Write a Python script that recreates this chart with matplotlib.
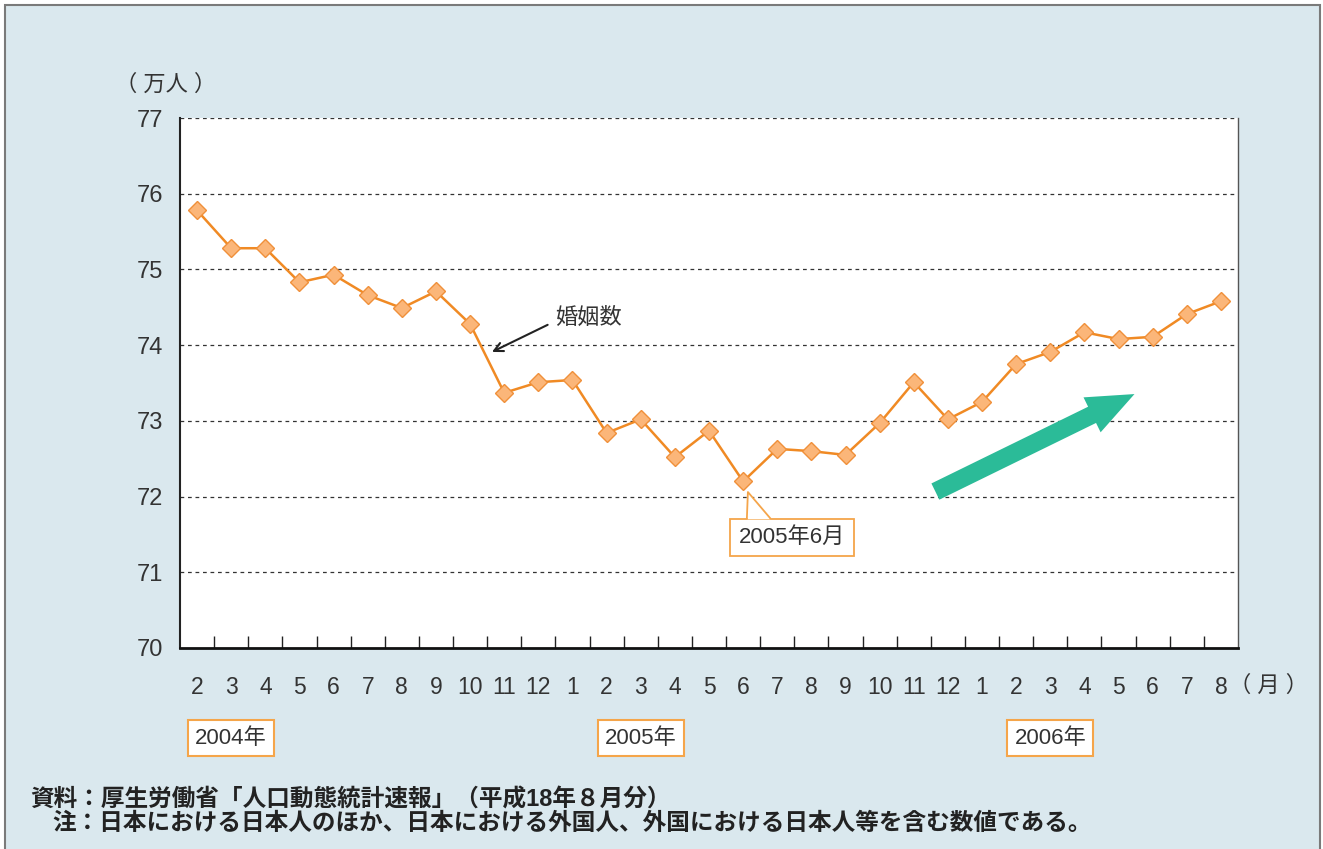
import matplotlib.pyplot as plt
from matplotlib.patches import Rectangle, FancyArrowPatch, Polygon

plt.rcParams['font.family'] = ['Liberation Sans', 'Noto Sans CJK JP', 'DejaVu Sans']

# 2004年2月 - 2006年8月 婚姻数（万人）
months = [2, 3, 4, 5, 6, 7, 8, 9, 10, 11, 12,
          1, 2, 3, 4, 5, 6, 7, 8, 9, 10, 11, 12,
          1, 2, 3, 4, 5, 6, 7, 8]
marriages = [75.78, 75.28, 75.28, 74.83, 74.93, 74.66, 74.49, 74.71, 74.28, 73.37, 73.51,
             73.54, 72.84, 73.02, 72.52, 72.87, 72.20, 72.63, 72.60, 72.55, 72.97, 73.51, 73.02,
             73.25, 73.75, 73.91, 74.17, 74.08, 74.11, 74.41, 74.58]
years = ['2004年', '2005年', '2006年']
year_pos = [1, 13, 25]
y_ticks = [70, 71, 72, 73, 74, 75, 76, 77]

txt = '#333333'
orange = '#f08a24'

fig = plt.figure(figsize=(13.23, 8.49), dpi=100)
fig.patch.set_facecolor('white')
frame = Rectangle((5 / 1323, -0.02), 1315 / 1323, 1 - 5 / 849 + 0.02, transform=fig.transFigure,
                  facecolor='#dae8ee', edgecolor='#7a7a7a', lw=1.5, zorder=-1)
fig.add_artist(frame)

ax = fig.add_axes([180 / 1323, 1 - 648 / 849, 1058 / 1323, 530 / 849])
ax.set_facecolor('white')

x = list(range(len(marriages)))
ax.plot(x, marriages, color=orange, lw=1.8, marker='D', ms=9.5,
        markerfacecolor='#fbb679', markeredgecolor='#f0903a', markeredgewidth=1, zorder=4)

ax.set_xlim(-0.5, len(marriages) - 0.5)
ax.set_ylim(70, 77)
ax.set_yticks(y_ticks)
ax.set_yticklabels([str(v) for v in y_ticks])
for v in y_ticks[1:]:
    ax.axhline(v, color='#333333', lw=0.9, ls=(0, (3, 3)), zorder=1)

ax.set_xticks([i + 0.5 for i in x[:-1]])
ax.set_xticklabels([])
ax.set_xticks(x, minor=True)
ax.set_xticklabels([str(m) for m in months], minor=True)
ax.tick_params(axis='x', which='major', direction='in', length=9, width=1, color='#222222')
ax.tick_params(axis='x', which='minor', length=0, pad=20, labelsize=16.5, labelcolor=txt)
ax.tick_params(axis='y', length=0, pad=12, labelsize=17, labelcolor=txt)

ax.spines['top'].set_visible(False)
ax.spines['left'].set_linewidth(1.5)
ax.spines['left'].set_color('#222222')
ax.spines['bottom'].set_linewidth(2)
ax.spines['bottom'].set_color('#111111')
ax.spines['right'].set_linewidth(1)
ax.spines['right'].set_color('#555555')

# units
ax.text(-0.014, 1.062, '（ 万人 ）', transform=ax.transAxes, ha='center', va='center',
        fontsize=16, color=txt)
ax.text(31.38, -0.0717, '（ 月 ）', transform=ax.get_xaxis_transform(), ha='center', va='center',
        fontsize=16, color=txt, clip_on=False)

# year boxes
for yr, p in zip(years, year_pos):
    ax.text(p, -0.17, yr, transform=ax.get_xaxis_transform(), ha='center', va='center',
            fontsize=16, color=txt, clip_on=False,
            bbox=dict(boxstyle='square,pad=0.32', facecolor='white', edgecolor='#f5a54a', lw=1.5))

# 婚姻数 label
ax.annotate('婚姻数', xy=(8.64, 73.91), xytext=(10.5, 74.36), ha='left', va='center',
            fontsize=16, color=txt,
            arrowprops=dict(arrowstyle='->', color='#222222', lw=1.5,
                            shrinkA=4, shrinkB=0, relpos=(0, 0.35), mutation_scale=16))

# 2005年6月 callout
ax.text(17.43, 71.46, '2005年6月', ha='center', va='center', fontsize=16, color=txt, zorder=5,
        bbox=dict(boxstyle='square,pad=0.38', facecolor='white', edgecolor='#f5a54a', lw=1.3))
ax.add_patch(Polygon([(16.13, 71.70), (16.14, 72.06), (16.80, 71.70)], closed=True,
                     facecolor='white', edgecolor='none', zorder=6))
ax.plot([16.11, 16.14, 16.79], [71.716, 72.06, 71.716], color='#f5a54a', lw=1.3, zorder=7)

# trend arrow
trend = FancyArrowPatch((21.56, 72.05), (27.54, 73.37),
                        arrowstyle='simple,head_length=34,head_width=28,tail_width=13',
                        mutation_scale=1, facecolor='#2bbb98', edgecolor='none', zorder=3)
ax.add_patch(trend)

# footer
fig.text(30 / 1323, 1 - 800 / 849, '資料：厚生労働省「人口動態統計速報」（平成18年８月分）',
         fontsize=17, fontweight='bold', color='#222222', va='center', ha='left')
fig.text(52 / 1323, 1 - 824 / 849, '注：日本における日本人のほか、日本における外国人、外国における日本人等を含む数値である。',
         fontsize=17, fontweight='bold', color='#222222', va='center', ha='left')

fig.savefig('out.png', dpi=100, facecolor=fig.get_facecolor())
